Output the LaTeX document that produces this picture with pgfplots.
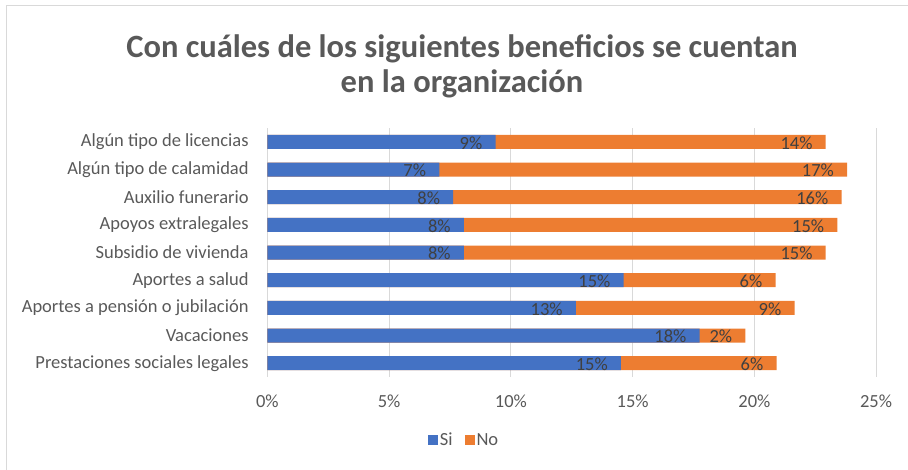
\documentclass[border=0pt]{standalone}
\usepackage{pgfplots}
\pgfplotsset{compat=1.18}
\usepackage{fontspec}
\setmainfont{Carlito}
\definecolor{cblue}{HTML}{4472C4}
\definecolor{corange}{HTML}{ED7D31}
\definecolor{txt}{HTML}{595959}
\definecolor{lbl}{HTML}{404040}
\definecolor{gridc}{HTML}{D9D9D9}
\begin{document}
\begin{tikzpicture}
\path[use as bounding box] (0pt,0pt) rectangle (908pt,-470pt);
\draw[color=gridc, line width=1pt] (6pt,-470pt) -- (6pt,-6pt) -- (908pt,-6pt);
\node[font=\fontsize{32.5}{35}\selectfont\bfseries, text=txt, align=center] at (462pt,-66pt) {Con cuáles de los siguientes beneficios se cuentan\\en la organización};
\begin{axis}[
  at={(267.4pt,-377pt)}, anchor=south west,
  width=608.7pt, height=249pt, scale only axis,
  xbar, bar width=14pt, bar shift=0pt,
  xmin=0, xmax=25, ymin=-0.5, ymax=8.5, y dir=reverse,
  xtick={0,5,...,25},
  xticklabel={\pgfmathprintnumber{\tick}\%},
  /pgf/number format/assume math mode=true,
  ytick={0,...,8},
  yticklabels={Algún tipo de licencias, Algún tipo de calamidad, Auxilio funerario, Apoyos extralegales, Subsidio de vivienda, Aportes a salud, Aportes a pensión o jubilación, Vacaciones, Prestaciones sociales legales},
  xmajorgrids, major grid style={gridc, line width=0.8pt},
  axis line style={draw=none}, tick style={draw=none},
  ticklabel style={font=\fontsize{18.5}{18.5}\selectfont, text=txt},
  yticklabel style={xshift=-11pt},
  xticklabel style={yshift=-14pt},
  legend style={at={(0.323,-0.253)}, anchor=center, legend columns=2, draw=none, fill=none,
    font=\fontsize{18.5}{18.5}\selectfont, text=txt,
    /tikz/every even column/.append style={column sep=10pt}},
  reverse legend,
  legend image code/.code={\fill[#1] (0pt,-5pt) rectangle (10pt,5pt);},
  point meta=explicit,
  nodes near coords={\pgfmathprintnumber[fixed,precision=0]{\pgfplotspointmeta}\%},
  every node near coord/.append style={anchor=east, inner sep=0pt, xshift=-13pt, yshift=-1pt,
    font=\fontsize{18.5}{18.5}\selectfont, text=lbl},
]
% "No" bars drawn from 0 to the total (Si + No); Si bars drawn over them
\addplot[fill=corange, draw=none] coordinates {
 (22.93,0) [13.56]
 (23.81,1) [16.75]
 (23.58,2) [15.95]
 (23.41,3) [15.34]
 (22.93,4) [14.86]
 (20.87,5) [6.24]
 (21.65,6) [8.98]
 (19.63,7) [1.88]
 (20.91,8) [6.39]
};
\addlegendentry{No}
\addplot[fill=cblue, draw=none] coordinates {
 (9.37,0) [9.37]
 (7.06,1) [7.06]
 (7.63,2) [7.63]
 (8.07,3) [8.07]
 (8.07,4) [8.07]
 (14.63,5) [14.63]
 (12.67,6) [12.67]
 (17.75,7) [17.75]
 (14.52,8) [14.52]
};
\addlegendentry{Si}
\end{axis}
\end{tikzpicture}
\end{document}
